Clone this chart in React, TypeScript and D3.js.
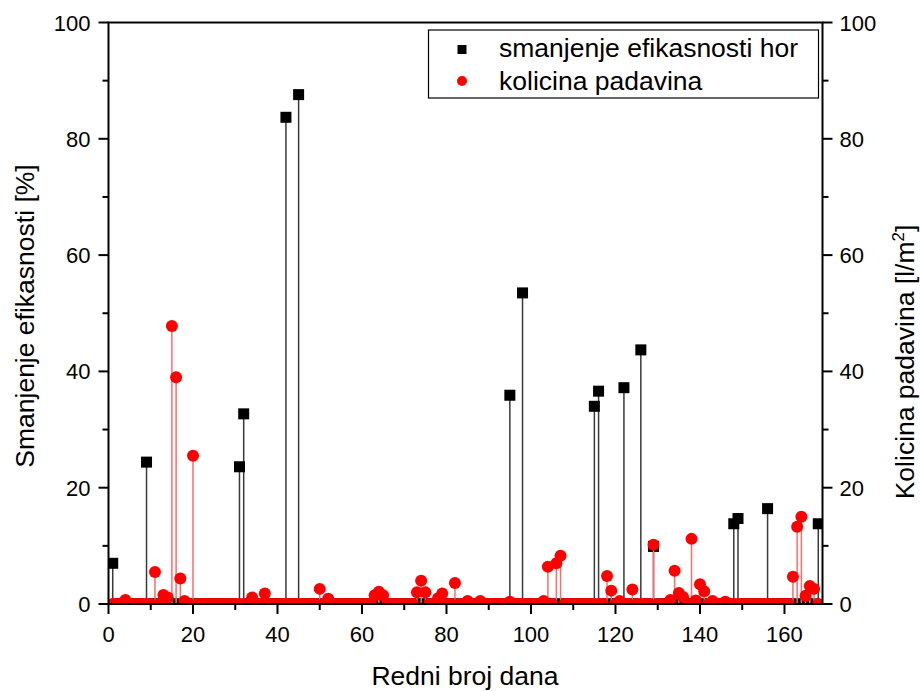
import React from "react";
import * as d3 from "d3";

const efficiencyDays = [1, 9, 31, 32, 42, 45, 95, 98, 115, 116, 122, 126, 129, 148, 149, 156, 168];
const efficiencyValues = [7.0, 24.4, 23.6, 32.7, 83.7, 87.6, 35.9, 53.5, 34.0, 36.6, 37.2, 43.7, 9.9, 13.8, 14.7, 16.4, 13.8];

const rainDays = [4, 11, 13, 14, 15, 16, 17, 18, 20, 34, 37, 50, 52, 63, 64, 65, 73, 74, 75, 78, 79, 82, 85, 88, 95, 103, 104, 106, 107, 118, 119, 121, 124, 129, 133, 134, 135, 136, 138, 139, 140, 141, 143, 146, 162, 163, 164, 165, 166, 167];
const rainValues = [0.7, 5.5, 1.55, 1.1, 47.8, 39.0, 4.4, 0.5, 25.5, 1.1, 1.8, 2.6, 0.9, 1.5, 2.1, 1.5, 2.0, 4.0, 2.0, 1.0, 1.8, 3.6, 0.5, 0.5, 0.4, 0.5, 6.4, 7.0, 8.3, 4.8, 2.3, 0.5, 2.5, 10.2, 0.7, 5.7, 1.9, 1.2, 11.2, 0.6, 3.4, 2.2, 0.5, 0.4, 4.7, 13.3, 15.0, 1.4, 3.1, 2.6];

const allDays = d3.range(1, 169);

const xTicks = [0, 20, 40, 60, 80, 100, 120, 140, 160];
const yTicks = [0, 20, 40, 60, 80, 100];

const xTitle = "Redni broj dana";
const yLeftTitle = "Smanjenje efikasnosti [%]";
const legendLabels = ["smanjenje efikasnosti hor", "kolicina padavina"];

export default function App() {
  const W = 920, H = 691;
  const L = 108.5, R = 822.5, T = 22.5, B = 604;
  const x = d3.scaleLinear().domain([0, 169]).range([L, R]);
  const y = d3.scaleLinear().domain([0, 100]).range([B, T]);
  const yR = d3.scaleLinear().domain([0, 100]).range([B, T]);

  const rainMap = new Map<number, number>();
  rainDays.forEach((d, i) => rainMap.set(d, rainValues[i]));
  const rainAll = allDays.map((d) => ({ d, v: rainMap.get(d) ?? 0 }));
  const effMap = new Map<number, number>();
  efficiencyDays.forEach((d, i) => effMap.set(d, efficiencyValues[i]));
  const effAll = allDays.map((d) => ({ d, v: effMap.get(d) ?? 0 }));

  const xMinor = d3.range(10, 170, 20);
  const yMinor = d3.range(10, 100, 20);
  const font = "Arial, 'Liberation Sans', sans-serif";
  const sq = 11;
  const tickFs = 22;
  const titleFs = 26.5;

  return (
    <svg width={W} height={H} style={{ position: "absolute", left: 0, top: 0, background: "#fff" }} fontFamily={font}>
      <defs>
        <clipPath id="plotclip">
          <rect x={L} y={T} width={R - L} height={B - T} />
        </clipPath>
      </defs>
      <rect x={0} y={0} width={W} height={H} fill="#fff" />
      <g clipPath="url(#plotclip)">
        {effAll.map((p) => (
          <line key={"es" + p.d} x1={x(p.d)} x2={x(p.d)} y1={y(0)} y2={y(p.v)} stroke="#3a3a3a" strokeWidth={1.5} />
        ))}
        {effAll.map((p) => (
          <rect key={"em" + p.d} x={x(p.d) - sq / 2} y={y(p.v) - sq / 2} width={sq} height={sq} fill="#000" />
        ))}
        {rainAll.map((p) => (
          <line key={"rs" + p.d} x1={x(p.d)} x2={x(p.d)} y1={yR(0)} y2={yR(p.v)} stroke="#ff6a6a" strokeWidth={1.5} />
        ))}
        {rainAll.map((p) => (
          <circle key={"rm" + p.d} cx={x(p.d)} cy={yR(p.v)} r={6} fill="#ff0000" />
        ))}
      </g>
      <rect x={L} y={T} width={R - L} height={B - T} fill="none" stroke="#000" strokeWidth={2} />
      {xTicks.map((t) => (
        <g key={"xt" + t}>
          <line x1={x(t)} x2={x(t)} y1={B} y2={B + 10} stroke="#000" strokeWidth={2} />
          <text x={x(t)} y={642} fontSize={tickFs} textAnchor="middle" fill="#000">{t}</text>
        </g>
      ))}
      {xMinor.map((t) => (
        <line key={"xm" + t} x1={x(t)} x2={x(t)} y1={B} y2={B + 6} stroke="#000" strokeWidth={2} />
      ))}
      {yTicks.map((t) => (
        <g key={"yt" + t}>
          <line x1={L - 10} x2={L} y1={y(t)} y2={y(t)} stroke="#000" strokeWidth={2} />
          <text x={L - 18} y={y(t) + 8} fontSize={tickFs} textAnchor="end" fill="#000">{t}</text>
        </g>
      ))}
      {yMinor.map((t) => (
        <line key={"ym" + t} x1={L - 6} x2={L} y1={y(t)} y2={y(t)} stroke="#000" strokeWidth={2} />
      ))}
      {yTicks.map((t) => (
        <g key={"yr" + t}>
          <line x1={R} x2={R + 10} y1={yR(t)} y2={yR(t)} stroke="#000" strokeWidth={2} />
          <text x={R + 17} y={yR(t) + 8} fontSize={tickFs} textAnchor="start" fill="#000">{t}</text>
        </g>
      ))}
      {yMinor.map((t) => (
        <line key={"yrm" + t} x1={R} x2={R + 6} y1={yR(t)} y2={yR(t)} stroke="#000" strokeWidth={2} />
      ))}
      <text x={465} y={685} fontSize={titleFs} textAnchor="middle" fill="#000">{xTitle}</text>
      <text transform={`translate(34,316) rotate(-90)`} fontSize={titleFs} textAnchor="middle" fill="#000">{yLeftTitle}</text>
      <text transform={`translate(914,362) rotate(-90)`} fontSize={titleFs} textAnchor="middle" fill="#000">
        Kolicina padavina [l/m<tspan dy={-10} fontSize={17}>2</tspan><tspan dy={10}>]</tspan>
      </text>
      <rect x={428.5} y={30} width={390} height={68} fill="#fff" stroke="#000" strokeWidth={1.2} />
      <rect x={457.5} y={45} width={9} height={9} fill="#000" />
      <text x={499} y={57} fontSize={titleFs} fill="#000">{legendLabels[0]}</text>
      <circle cx={462} cy={81} r={5} fill="#ff0000" />
      <text x={499} y={90} fontSize={titleFs} fill="#000">{legendLabels[1]}</text>
    </svg>
  );
}
